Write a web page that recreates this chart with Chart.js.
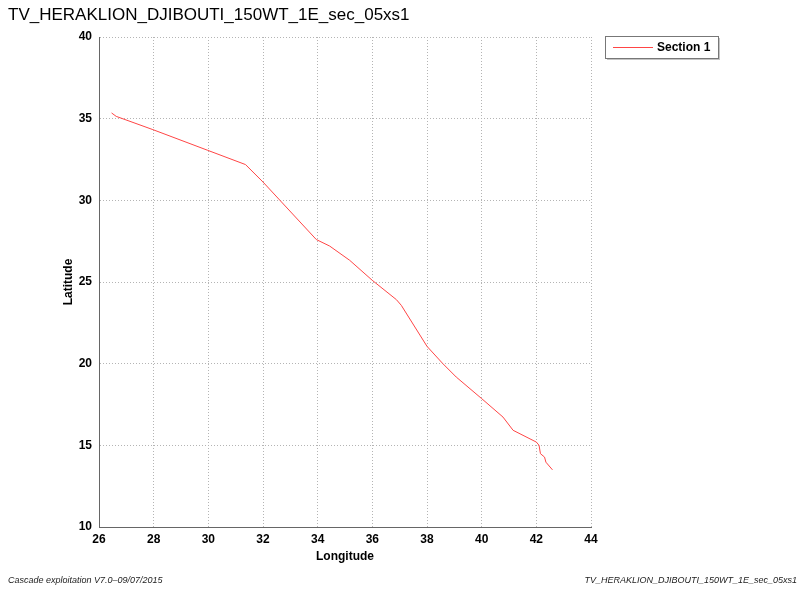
<!DOCTYPE html>
<html>
<head>
<meta charset="utf-8">
<script src="https://cdn.jsdelivr.net/npm/chart.js@4/dist/chart.umd.min.js"></script>
<style>
  html, body { margin: 0; padding: 0; background: #fff; }
  #wrap { position: relative; width: 803px; height: 592px; }
</style>
</head>
<body>
<div id="wrap"><canvas id="track" width="803" height="592"></canvas></div>
<script>
// Section 1 track, longitude / latitude pairs
const longitudes = [26.46, 26.63, 27.97, 29.98, 31.36, 32.0, 33.95, 34.44, 35.17, 36.0, 36.88, 37.06,
                    38.0, 38.58, 39.07, 40.0, 40.78, 41.15, 42.0, 42.1, 42.15, 42.3, 42.35, 42.59];
const latitudes  = [35.35, 35.14, 34.33, 33.06, 32.19, 31.12, 27.6, 27.2, 26.33, 25.1, 23.92, 23.57,
                    21.06, 20.0, 19.18, 17.86, 16.73, 15.92, 15.2, 15.0, 14.49, 14.28, 13.97, 13.5];

const chartTitle = 'TV_HERAKLION_DJIBOUTI_150WT_1E_sec_05xs1';
const footLeft = 'Cascade exploitation V7.0\u201309/07/2015';
const footRight = 'TV_HERAKLION_DJIBOUTI_150WT_1E_sec_05xs1';
const seriesLabel = 'Section 1';
const lineColor = '#ff4545';

const FONT = "'Liberation Sans', Arial, Helvetica, sans-serif";

// title, footers and the boxed legend are painted straight onto the canvas
const decorations = {
    id: 'decorations',
    afterDraw(chart) {
        const ctx = chart.ctx;
        ctx.save();
        ctx.setLineDash([]);
        ctx.fillStyle = '#000';
        ctx.textBaseline = 'alphabetic';
        ctx.font = '17px ' + FONT;
        ctx.textAlign = 'left';
        ctx.fillText(chartTitle, 8, 20);

        ctx.font = 'italic 9px ' + FONT;
        ctx.fillStyle = '#222';
        ctx.fillText(footLeft, 8, 583);
        ctx.textAlign = 'right';
        ctx.fillText(footRight, 797, 583);

        // legend box with a faint drop shadow
        ctx.fillStyle = '#c4c4c4';
        ctx.fillRect(607, 38, 113, 22);
        ctx.fillStyle = '#fff';
        ctx.fillRect(605, 36, 113, 22);
        ctx.strokeStyle = '#777';
        ctx.lineWidth = 1;
        ctx.strokeRect(605.5, 36.5, 113, 22);
        ctx.beginPath();
        ctx.strokeStyle = lineColor;
        ctx.moveTo(613, 47.5);
        ctx.lineTo(653, 47.5);
        ctx.stroke();
        ctx.fillStyle = '#000';
        ctx.font = 'bold 12px ' + FONT;
        ctx.textAlign = 'left';
        ctx.textBaseline = 'middle';
        ctx.fillText(seriesLabel, 657, 48);
        ctx.restore();
    }
};

new Chart(document.getElementById('track'), {
    type: 'scatter',
    data: {
        datasets: [{
            label: seriesLabel,
            data: longitudes.map((x, i) => ({ x: x, y: latitudes[i] })),
            showLine: true,
            borderColor: lineColor,
            borderWidth: 1,
            pointRadius: 0,
            fill: false
        }]
    },
    options: {
        responsive: false,
        animation: false,
        layout: { padding: { left: 0, top: 37, right: 212, bottom: 0 } },
        plugins: {
            legend: { display: false },
            tooltip: { enabled: false }
        },
        scales: {
            x: {
                type: 'linear',
                min: 26,
                max: 44,
                afterFit: s => { s.height = 65; },
                ticks: {
                    stepSize: 2,
                    color: '#000',
                    padding: 5,
                    font: { family: FONT, size: 12, weight: 'bold' }
                },
                grid: { color: '#b4b4b4', drawTicks: false },
                // border.dash dashes the grid lines; the axis line itself stays solid
                border: { display: true, color: '#666', dash: [1, 2] },
                title: {
                    display: true,
                    text: 'Longitude',
                    color: '#000',
                    padding: { bottom: 28 },
                    font: { family: FONT, size: 12, weight: 'bold' }
                }
            },
            y: {
                type: 'linear',
                min: 10,
                max: 40,
                afterFit: s => { s.width = 99; },
                ticks: {
                    stepSize: 5,
                    color: '#000',
                    padding: 7,
                    font: { family: FONT, size: 12, weight: 'bold' }
                },
                grid: { color: '#b4b4b4', drawTicks: false },
                border: { display: true, color: '#666', dash: [1, 2] },
                title: {
                    display: true,
                    text: 'Latitude',
                    color: '#000',
                    padding: { top: 61 },
                    font: { family: FONT, size: 12, weight: 'bold' }
                }
            }
        }
    },
    plugins: [decorations]
});
</script>
</body>
</html>
